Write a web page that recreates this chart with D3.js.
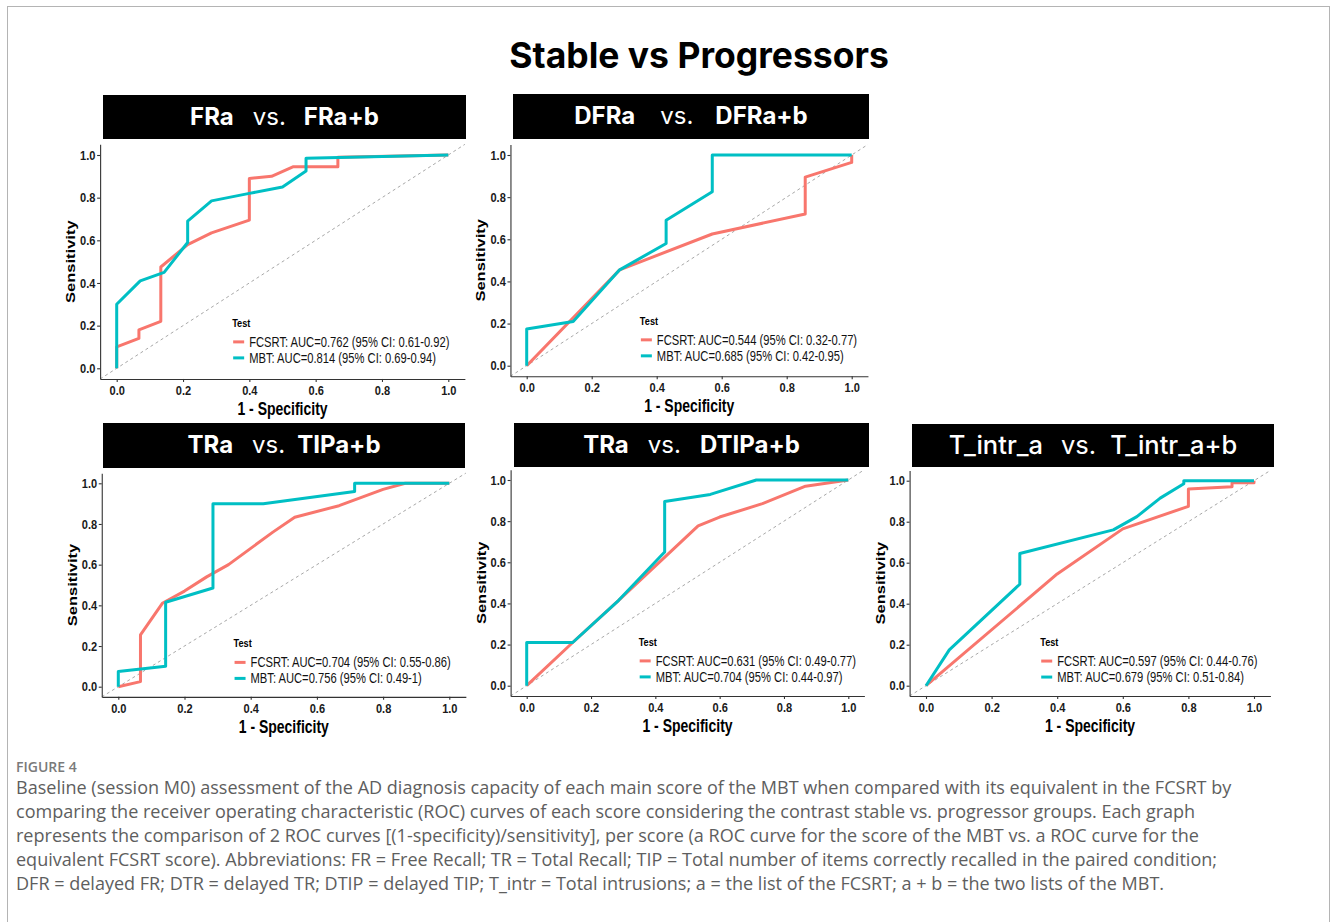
<!DOCTYPE html>
<html>
<head>
<meta charset="utf-8">
<script src="https://cdn.jsdelivr.net/npm/d3@7"></script>
<style>
  body { margin: 0; background: #fff; }
</style>
</head>
<body>
<div id="chart"></div>
<script>
var W = 1336, H = 922;
var SQ = 0.8; // the ggplot parts of the figure are squeezed horizontally

// data: [1 - specificity, sensitivity]
var ticks = [0, 0.2, 0.4, 0.6, 0.8, 1];

var fraFcsrt = [[0,0],[0,0.10],[0.067,0.14],[0.067,0.18],[0.133,0.22],[0.133,0.475],[0.214,0.58],[0.286,0.635],[0.4,0.695],[0.4,0.89],[0.467,0.90],[0.533,0.945],[0.667,0.945],[0.667,0.99],[1,1]];
var fraMbt = [[0,0],[0,0.30],[0.071,0.41],[0.143,0.45],[0.214,0.59],[0.214,0.69],[0.286,0.785],[0.4,0.82],[0.5,0.85],[0.571,0.925],[0.571,0.985],[1,1]];

var dfraFcsrt = [[0,0],[0.286,0.455],[0.571,0.625],[0.857,0.72],[0.857,0.895],[1,0.965],[1,1]];
var dfraMbt = [[0,0],[0,0.174],[0.143,0.21],[0.286,0.455],[0.429,0.58],[0.429,0.69],[0.571,0.826],[0.571,1],[1,1]];

var tipFcsrt = [[0,0],[0.067,0.025],[0.067,0.255],[0.133,0.41],[0.2,0.47],[0.267,0.54],[0.333,0.60],[0.4,0.68],[0.467,0.76],[0.533,0.833],[0.667,0.89],[0.8,0.97],[0.867,1],[1,1]];
var tipMbt = [[0,0],[0,0.075],[0.143,0.1],[0.143,0.415],[0.286,0.485],[0.286,0.9],[0.438,0.9],[0.714,0.96],[0.714,1],[1,1]];

var dtipFcsrt = [[0,0],[0.143,0.21],[0.286,0.415],[0.533,0.777],[0.6,0.82],[0.733,0.885],[0.867,0.97],[1,1]];
var dtipMbt = [[0,0],[0,0.21],[0.143,0.21],[0.286,0.415],[0.429,0.65],[0.429,0.895],[0.571,0.93],[0.714,1],[1,1]];

var intrFcsrt = [[0,0],[0.4,0.545],[0.6,0.765],[0.8,0.875],[0.8,0.96],[0.933,0.97],[0.933,0.99],[1,0.99],[1,1]];
var intrMbt = [[0,0],[0.071,0.175],[0.286,0.495],[0.286,0.645],[0.571,0.76],[0.643,0.825],[0.714,0.915],[0.786,0.985],[0.786,1],[1,1]];

var fcsrtCurves = [fraFcsrt, dfraFcsrt, tipFcsrt, dtipFcsrt, intrFcsrt];
var mbtCurves = [fraMbt, dfraMbt, tipMbt, dtipMbt, intrMbt];

var titleLeft = ["FRa", "DFRa", "TRa", "TRa", "T_intr_a"];
var titleRight = ["FRa+b", "DFRa+b", "TIPa+b", "DTIPa+b", "T_intr_a+b"];

var fcsrtLabels = [
  "FCSRT: AUC=0.762 (95% CI: 0.61-0.92)",
  "FCSRT: AUC=0.544 (95% CI: 0.32-0.77)",
  "FCSRT: AUC=0.704 (95% CI: 0.55-0.86)",
  "FCSRT: AUC=0.631 (95% CI: 0.49-0.77)",
  "FCSRT: AUC=0.597 (95% CI: 0.44-0.76)"
];
var mbtLabels = [
  "MBT: AUC=0.814 (95% CI: 0.69-0.94)",
  "MBT: AUC=0.685 (95% CI: 0.42-0.95)",
  "MBT: AUC=0.756 (95% CI: 0.49-1)",
  "MBT: AUC=0.704 (95% CI: 0.44-0.97)",
  "MBT: AUC=0.679 (95% CI: 0.51-0.84)"
];

var captionHead = "FIGURE 4";
var captionLines = [
  "Baseline (session M0) assessment of the AD diagnosis capacity of each main score of the MBT when compared with its equivalent in the FCSRT by",
  "comparing the receiver operating characteristic (ROC) curves of each score considering the contrast stable vs. progressor groups. Each graph",
  "represents the comparison of 2 ROC curves [(1-specificity)/sensitivity], per score (a ROC curve for the score of the MBT vs. a ROC curve for the",
  "equivalent FCSRT score). Abbreviations: FR = Free Recall; TR = Total Recall; TIP = Total number of items correctly recalled in the paired condition;",
  "DFR = delayed FR; DTR = delayed TR; DTIP = delayed TIP; T_intr = Total intrusions; a = the list of the FCSRT; a + b = the two lists of the MBT."
];

var colFcsrt = "#F8766D", colMbt = "#00BFC4";

// layout: pixel position of x=0..1 / y=1..0 and the black title box
var panels = [
  {x0: 116.7, x1: 448.3, yTop: 155,   yBot: 368.3, box: [103, 95, 466, 139],  gaps: [19, 18], weight: 700, fs: 24},
  {x0: 526.7, x1: 851.7, yTop: 155,   yBot: 365.7, box: [513, 94, 869, 139],  gaps: [25, 22], weight: 700, fs: 24},
  {x0: 118.3, x1: 449.3, yTop: 483.3, yBot: 686.7, box: [103, 423, 465, 468], gaps: [19, 12], weight: 700, fs: 24},
  {x0: 526.7, x1: 848.3, yTop: 480,   yBot: 685.7, box: [514, 423, 869, 467], gaps: [19, 19], weight: 700, fs: 24},
  {x0: 926,   x1: 1254,  yTop: 480.7, yBot: 685.7, box: [912, 424, 1274, 467], gaps: [18, 14], weight: 500, fs: 25.5}
];

var svg = d3.select("#chart").append("svg")
    .attr("width", W)
    .attr("height", H);

svg.append("rect")
    .attr("x", 7.5).attr("y", 6.5)
    .attr("width", 1322).attr("height", H)
    .attr("fill", "none")
    .attr("stroke", "#b4b4b4");

svg.append("text")
    .attr("x", 699).attr("y", 68)
    .attr("text-anchor", "middle")
    .style("font-family", "Inter, sans-serif")
    .style("font-weight", 700)
    .style("font-size", "35.5px")
    .attr("fill", "#000")
    .text("Stable vs Progressors");

function squeezed(g, x, y, txt) {
  return g.append("text")
      .attr("transform", "translate(" + x + "," + y + ") scale(" + SQ + ",1)")
      .style("font-family", "'Liberation Sans', Arial, sans-serif")
      .text(txt);
}

panels.forEach(function(p, i) {
  var dx = 0.05 * (p.x1 - p.x0), dy = 0.05 * (p.yBot - p.yTop);
  var x = d3.scaleLinear().domain([-0.05, 1.05]).range([p.x0 - dx, p.x1 + dx]);
  var y = d3.scaleLinear().domain([-0.05, 1.05]).range([p.yBot + dy, p.yTop - dy]);
  var g = svg.append("g");

  // title strip
  g.append("rect")
      .attr("x", p.box[0]).attr("y", p.box[1])
      .attr("width", p.box[2] - p.box[0]).attr("height", p.box[3] - p.box[1])
      .attr("fill", "#000");
  var t = g.append("text")
      .attr("x", (p.box[0] + p.box[2]) / 2)
      .attr("y", p.box[1] + 30)
      .attr("text-anchor", "middle")
      .attr("fill", "#fff")
      .style("font-family", "Inter, sans-serif")
      .style("font-size", p.fs + "px");
  t.append("tspan").style("font-weight", p.weight).text(titleLeft[i]);
  t.append("tspan").attr("dx", p.gaps[0]).style("font-weight", 400).text("vs.");
  t.append("tspan").attr("dx", p.gaps[1]).style("font-weight", p.weight).text(titleRight[i]);

  // reference diagonal
  g.append("line")
      .attr("x1", x(-0.05)).attr("y1", y(-0.05))
      .attr("x2", x(1.05)).attr("y2", y(1.05))
      .attr("stroke", "#a8a8a8")
      .attr("stroke-width", 1)
      .attr("stroke-dasharray", "3,3");

  // axes
  var xa = g.append("g")
      .attr("transform", "translate(0," + y(-0.05) + ")")
      .call(d3.axisBottom(x).tickValues(ticks).tickFormat(d3.format(".1f"))
        .tickSize(3).tickSizeOuter(0).tickPadding(4));
  var ya = g.append("g")
      .attr("transform", "translate(" + x(-0.05) + ",0)")
      .call(d3.axisLeft(y).tickValues(ticks).tickFormat(d3.format(".1f"))
        .tickSize(3).tickSizeOuter(0).tickPadding(2.5));
  [xa, ya].forEach(function(a) {
    a.attr("font-family", "'Liberation Sans', Arial, sans-serif").attr("font-size", 13);
    a.select(".domain").attr("stroke", "#333").attr("stroke-width", 1.1);
    a.selectAll(".tick line").attr("stroke", "#333").attr("stroke-width", 1.1);
    a.selectAll(".tick text")
        .attr("fill", "#1a1a1a")
        .style("font-weight", "bold")
        .attr("transform", "scale(0.85,1)");
  });

  squeezed(g, (x(-0.05) + x(1.05)) / 2, y(-0.05) + 36, "1 - Specificity")
      .attr("text-anchor", "middle")
      .style("font-weight", "bold")
      .style("font-size", "17.5px")
      .attr("fill", "#000");

  g.append("text")
      .attr("transform", "translate(" + (x(-0.05) - 25) + "," + ((y(-0.05) + y(1.05)) / 2) + ") rotate(-90) scale(1," + SQ + ")")
      .attr("text-anchor", "middle")
      .style("font-family", "'Liberation Sans', Arial, sans-serif")
      .style("font-weight", "bold")
      .style("font-size", "16.5px")
      .attr("fill", "#000")
      .text("Sensitivity");

  // curves
  var line = d3.line()
      .x(function(d) { return x(d[0]); })
      .y(function(d) { return y(d[1]); });
  [[fcsrtCurves[i], colFcsrt], [mbtCurves[i], colMbt]].forEach(function(c) {
    g.append("path")
        .datum(c[0])
        .attr("d", line)
        .attr("fill", "none")
        .attr("stroke", c[1])
        .attr("stroke-width", 3)
        .attr("stroke-linejoin", "round");
  });

  // legend
  var lx = x(-0.05) + 0.362 * (x(1.05) - x(-0.05));
  var ly = y(1.05) + 0.761 * (y(-0.05) - y(1.05)) + 4;
  squeezed(g, lx, ly, "Test")
      .style("font-weight", "bold")
      .style("font-size", "11.5px")
      .attr("fill", "#000");
  [[fcsrtLabels[i], colFcsrt], [mbtLabels[i], colMbt]].forEach(function(e, k) {
    var yy = ly + 20 + 16 * k;
    g.append("line")
        .attr("x1", lx + 1).attr("x2", lx + 12)
        .attr("y1", yy - 5).attr("y2", yy - 5)
        .attr("stroke", e[1])
        .attr("stroke-width", 3);
    squeezed(g, lx + 17, yy, e[0])
        .style("font-size", "14px")
        .attr("fill", "#111");
  });
});

// caption
var capX = 16;
svg.append("text")
    .attr("x", capX).attr("y", 772)
    .style("font-family", "'Open Sans', sans-serif")
    .style("font-weight", 600)
    .style("font-size", "14px")
    .attr("fill", "#7a7a7a")
    .text(captionHead);

var cap = svg.append("g")
    .style("font-family", "'Open Sans', sans-serif")
    .style("font-size", "16px")
    .attr("fill", "#5e5e5e");
var capText = cap.selectAll("text")
  .data(captionLines)
  .enter().append("text")
    .attr("x", capX)
    .attr("y", function(d, i) { return 794 + 24 * i; })
    .text(function(d) { return d; });
var w0 = capText.node().getComputedTextLength();
cap.style("font-size", (16 * 1216 / w0) + "px");
</script>
</body>
</html>
